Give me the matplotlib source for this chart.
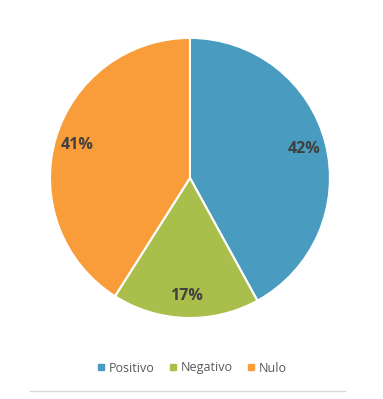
import matplotlib
matplotlib.use("Agg")
import matplotlib.pyplot as plt
from matplotlib.lines import Line2D

categories = ["Positivo", "Negativo", "Nulo"]
values = [42, 17, 41]
colors = ["#4A9BC0", "#AABF4B", "#F99D3A"]

plt.rcParams['font.family'] = ['Open Sans', 'DejaVu Sans']

fig = plt.figure(figsize=(3.83, 3.99), dpi=100)
ax = fig.add_axes([0.1305, 0.203, 0.731, 0.702])
wedges, texts, autotexts = ax.pie(
    values, colors=colors, startangle=90, counterclock=False,
    autopct=lambda p: f"{p:.0f}%", pctdistance=0.84,
    wedgeprops=dict(edgecolor="white", linewidth=1.5),
    textprops=dict(color="#404040", fontsize=11.5, fontweight="bold"))
ax.set_aspect("auto")
ax.set_xlim(-1, 1)
ax.set_ylim(-1, 1)

handles = [Line2D([0], [0], marker="s", linestyle="none", markersize=5,
                  markerfacecolor=c, markeredgecolor=c) for c in colors]
fig.legend(handles, categories, loc="center", bbox_to_anchor=(0.5, 1 - 368 / 399),
           ncol=3, frameon=False, fontsize=9, labelcolor="#595959",
           handletextpad=0.2, columnspacing=1.1, handlelength=0.8)

fig.add_artist(Line2D([30 / 383, 345 / 383], [1 - 391 / 399] * 2,
                      color="#D9D9D9", linewidth=1, transform=fig.transFigure))

fig.savefig("out.png", dpi=100)
